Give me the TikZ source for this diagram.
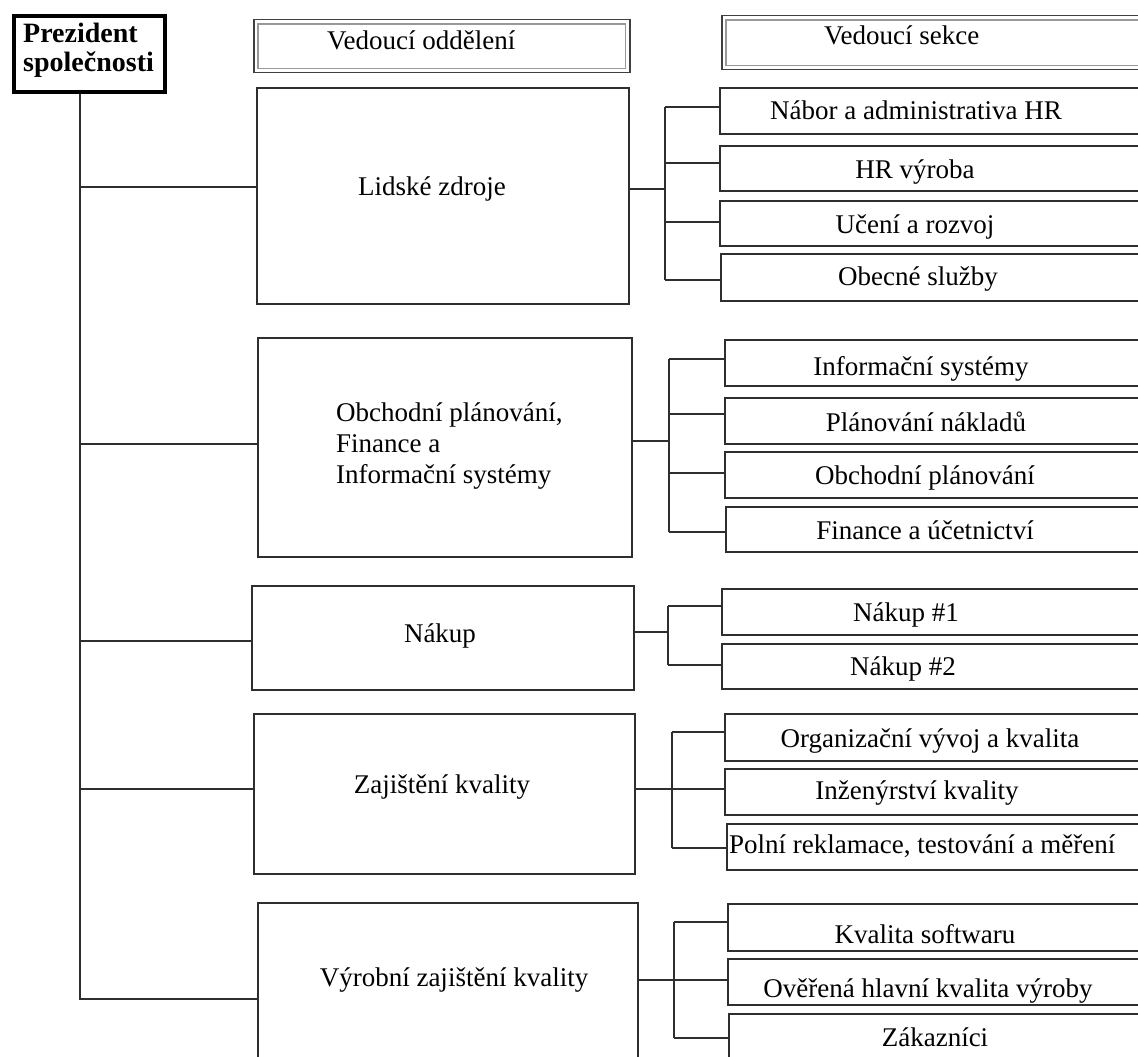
\documentclass[tikz,border=0pt]{standalone}
\usepackage{fontspec}
\setmainfont{Liberation Serif}
\begin{document}
\begin{tikzpicture}[x=1pt,y=-1pt,
  ln/.style={draw=black!82, line width=1.5pt},
  dbox/.style={ln, rectangle, inner sep=0pt, anchor=north west},
  cbox/.style={ln, rectangle, inner sep=0pt, anchor=north west},
  txt/.style={inner sep=0pt, font=\fontsize{27}{31}\selectfont, text=black},
  ctxt/.style={txt, anchor=base},
  hbox/.style={draw=black!75, line width=1.5pt, rectangle, inner sep=0pt, anchor=north west},
  hin/.style={draw=black!40, line width=1.5pt}
]
\useasboundingbox (0,0) rectangle (1138,1057);
\clip (0,0) rectangle (1138,1057);

% president
\node[draw=black, line width=4pt, rectangle, inner sep=0pt, anchor=north west,
      minimum width=151pt, minimum height=76pt] (pres) at (12,14) {};
\node[txt, anchor=base west, font=\fontsize{28}{29}\selectfont\bfseries, align=left] (prest) at (23,72) {Prezident\\společnosti};

% headers
\node[hbox, minimum width=376pt, minimum height=53pt] (h1) at (253,19) {};
\draw[hin] ([shift={(5pt,-5pt)}]h1.north west) rectangle ([shift={(-5pt,5pt)}]h1.south east);
\node[txt, anchor=base west] (h1t) at (327,50) {Vedoucí oddělení};
\node[hbox, minimum width=430pt, minimum height=54pt] (h2) at (721,15) {};
\draw[hin] ([shift={(5pt,-5pt)}]h2.north west) rectangle ([shift={(-5pt,5pt)}]h2.south east);
\node[txt, anchor=base west] (h2t) at (824,45) {Vedoucí sekce};

% departments
\node[dbox, minimum width=372pt, minimum height=216pt] (d1) at (256,87) {};
\node[ctxt] (d1t) at (432,195) {Lidské zdroje};
\node[dbox, minimum width=374pt, minimum height=219pt] (d2) at (257,337) {};
\node[txt, anchor=base west, align=left] (d2t) at (336,483) {Obchodní plánování,\\Finance a\\Informační systémy};
\node[dbox, minimum width=382pt, minimum height=104pt] (d3) at (251,585) {};
\node[ctxt] (d3t) at (440,642) {Nákup};
\node[dbox, minimum width=381pt, minimum height=160pt] (d4) at (253,713) {};
\node[ctxt] (d4t) at (442,793) {Zajištění kvality};
\node[dbox, minimum width=380pt, minimum height=200pt] (d5) at (257,902) {};
\node[ctxt] (d5t) at (454,986) {Výrobní zajištění kvality};

% trunk
\draw[ln] (pres.south -| 80,0) -- (80,999) -- (d5.west |- 80,999);
\foreach \n/\y in {d1/187, d2/444, d3/641, d4/789} {
  \draw[ln] (80,\y) -- (\n.west |- 80,\y);
}

% group 1
\node[cbox, minimum width=431pt, minimum height=46pt] (c11) at (719,87) {};
\node[cbox, minimum width=431pt, minimum height=45pt] (c12) at (719,145) {};
\node[cbox, minimum width=431pt, minimum height=45pt] (c13) at (719,200) {};
\node[cbox, minimum width=430pt, minimum height=47pt] (c14) at (720,253) {};
\node[ctxt] (c11t) at (916,119) {Nábor a administrativa HR};
\node[ctxt] (c12t) at (915,178) {HR výroba};
\node[ctxt] (c13t) at (915,233) {Učení a rozvoj};
\node[ctxt] (c14t) at (918,285) {Obecné služby};
\draw[ln] (d1.east |- 0,189) -- (665,189);
\draw[ln] (665,107) -- (665,280);
\foreach \n/\y in {c11/107, c12/163, c13/222, c14/280} {
  \draw[ln] (665,\y) -- (\n.west |- 0,\y);
}

% group 2
\node[cbox, minimum width=426pt, minimum height=46pt] (c21) at (724,339) {};
\node[cbox, minimum width=426pt, minimum height=46pt] (c22) at (724,397) {};
\node[cbox, minimum width=426pt, minimum height=46pt] (c23) at (724,451) {};
\node[cbox, minimum width=425pt, minimum height=45pt] (c24) at (725,506) {};
\node[ctxt] (c21t) at (921,375) {Informační systémy};
\node[ctxt] (c22t) at (926,431) {Plánování nákladů};
\node[ctxt] (c23t) at (925,484) {Obchodní plánování};
\node[ctxt] (c24t) at (925,539) {Finance a účetnictví};
\draw[ln] (d2.east |- 0,441) -- (669,441);
\draw[ln] (669,359) -- (669,532);
\foreach \n/\y in {c21/359, c22/414, c23/473, c24/532} {
  \draw[ln] (669,\y) -- (\n.west |- 0,\y);
}

% group 3
\node[cbox, minimum width=429pt, minimum height=46pt] (c31) at (721,588) {};
\node[cbox, minimum width=429pt, minimum height=45pt] (c32) at (721,643) {};
\node[ctxt] (c31t) at (906,621) {Nákup \#1};
\node[ctxt] (c32t) at (903,675) {Nákup \#2};
\draw[ln] (d3.east |- 0,632) -- (668,632);
\draw[ln] (668,606) -- (668,665);
\foreach \n/\y in {c31/606, c32/665} {
  \draw[ln] (668,\y) -- (\n.west |- 0,\y);
}

% group 4
\node[cbox, minimum width=426pt, minimum height=47pt] (c41) at (724,713) {};
\node[cbox, minimum width=426pt, minimum height=46pt] (c42) at (724,768) {};
\node[cbox, minimum width=424pt, minimum height=46pt] (c43) at (726,823) {};
\node[ctxt] (c41t) at (930,747) {Organizační vývoj a kvalita};
\node[ctxt] (c42t) at (917,799) {Inženýrství kvality};
\node[txt, anchor=base west] (c43t) at (729,853) {Polní reklamace, testování a měření};
\draw[ln] (d4.east |- 0,789) -- (672,789);
\draw[ln] (672,732) -- (672,848);
\foreach \n/\y in {c41/732, c42/789, c43/848} {
  \draw[ln] (672,\y) -- (\n.west |- 0,\y);
}

% group 5
\node[cbox, minimum width=423pt, minimum height=47pt] (c51) at (727,903) {};
\node[cbox, minimum width=423pt, minimum height=46pt] (c52) at (727,958) {};
\node[cbox, minimum width=422pt, minimum height=48pt] (c53) at (728,1013) {};
\node[ctxt] (c51t) at (925,943) {Kvalita softwaru};
\node[ctxt] (c52t) at (928,997) {Ověřená hlavní kvalita výroby};
\node[ctxt] (c53t) at (935,1046) {Zákazníci};
\draw[ln] (d5.east |- 0,980) -- (674,980);
\draw[ln] (674,922) -- (674,1038);
\foreach \n/\y in {c51/922, c52/980, c53/1038} {
  \draw[ln] (674,\y) -- (\n.west |- 0,\y);
}
\end{tikzpicture}
\end{document}
